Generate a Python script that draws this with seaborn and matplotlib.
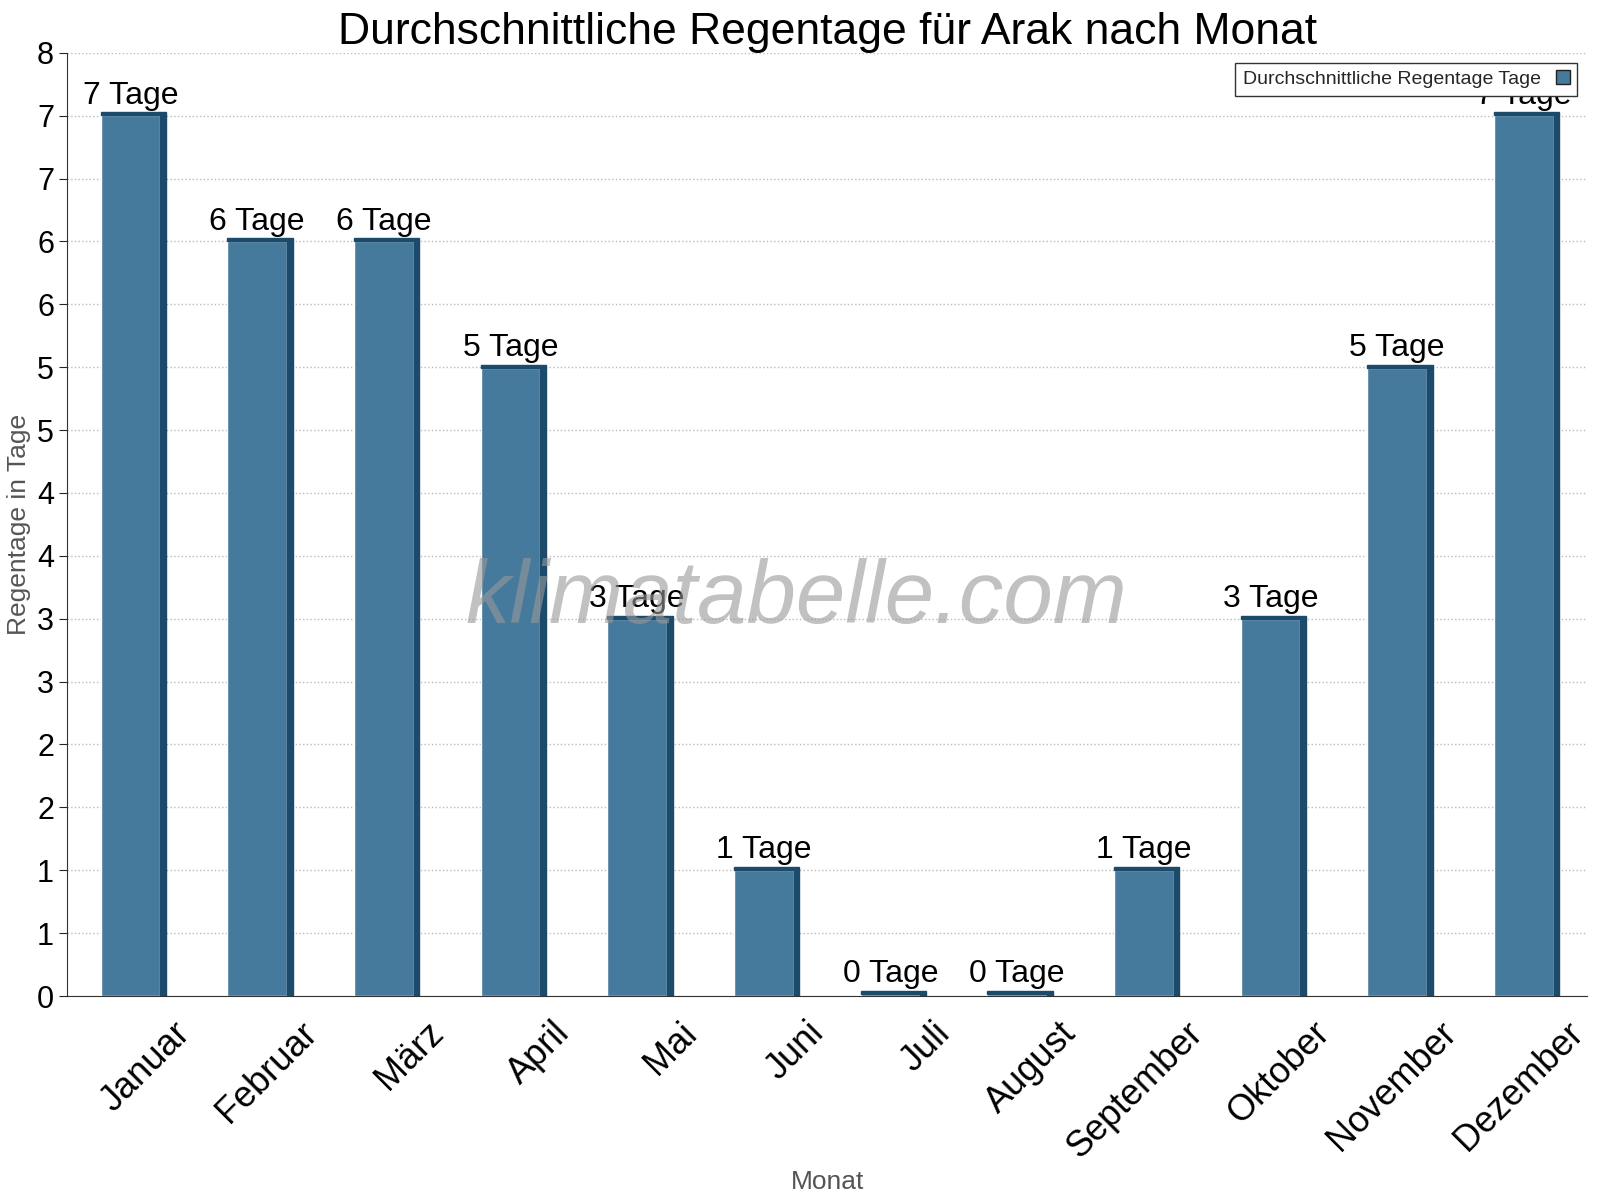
import numpy as np
import pandas as pd
import matplotlib
matplotlib.use("Agg")
import matplotlib.pyplot as plt
import seaborn as sns
from matplotlib.patches import Rectangle, Patch

months = ["Januar", "Februar", "März", "April", "Mai", "Juni", "Juli",
          "August", "September", "Oktober", "November", "Dezember"]
rain_days = [7.47, 6.4, 6.4, 5.33, 3.2, 1.07, 0.02, 0.02, 1.07, 3.2, 5.33, 7.47]
labels = ["7 Tage", "6 Tage", "6 Tage", "5 Tage", "3 Tage", "1 Tage", "0 Tage",
          "0 Tage", "1 Tage", "3 Tage", "5 Tage", "7 Tage"]

sns.set_style("white")
plt.rcParams['font.family'] = ['Liberation Sans', 'DejaVu Sans']

df = pd.DataFrame({"Monat": months, "Tage": rain_days})
fig = plt.figure(figsize=(16, 12), dpi=100)
ax = fig.add_axes([0.042, 0.17, 0.95, 0.786])

face = "#467a9c"
side = "#1c4a6b"
sns.barplot(data=df, x="Monat", y="Tage", color=face, width=0.47, ax=ax, saturation=1)

for p, lab in zip(ax.patches, labels):
    x, w, h = p.get_x(), p.get_width(), p.get_height()
    ax.add_patch(Rectangle((x + w, 0), 0.045, h, color=side, zorder=1))
    ax.add_patch(Rectangle((x, h), w + 0.045, 0.025, color=side, zorder=1))
    ax.text(x + w / 2, h + 0.04, lab, ha="center", va="bottom", fontsize=23, color="black")

ticks = np.arange(16) * 8 / 15
ax.set_yticks(ticks)
ax.set_yticklabels([str(int(round(t))) for t in ticks], fontsize=22, color="black")
ax.set_ylim(0, 8)
ax.set_xlim(-0.5, 11.5)
# labels sit a bit right of the bar centre, like the original
ax.set_xticks(np.arange(12) + 0.33)
ax.set_xticklabels(months, rotation=45, ha="right", rotation_mode="anchor",
                   fontsize=26, color="black")
ax.tick_params(axis="x", pad=14)
ax.set_xticks(np.arange(-0.5, 12, 1), minor=True)
ax.tick_params(axis="x", which="minor", length=6, color="#333333")
ax.tick_params(axis="x", which="major", length=0)
ax.tick_params(axis="y", length=6, left=True)
ax.yaxis.grid(True, linestyle=":", color="#bbbbbb", linewidth=1)
ax.set_axisbelow(True)
for s in ["top", "right"]:
    ax.spines[s].set_visible(False)
for s in ["left", "bottom"]:
    ax.spines[s].set_color("#333333")

ax.set_xlabel("Monat", fontsize=19, color="#555555", labelpad=4)
ax.set_ylabel("Regentage in Tage", fontsize=19, color="#555555")
ax.set_title("Durchschnittliche Regentage für Arak nach Monat", fontsize=32,
             pad=6, color="black")

ax.text(0.48, 0.42, "klimatabelle.com", transform=ax.transAxes, fontsize=64,
        color="#999999", alpha=0.6, style="italic", ha="center", va="center", zorder=5)

leg = ax.legend(handles=[Patch(facecolor=face, edgecolor="#222222")],
                labels=["Durchschnittliche Regentage Tage"], loc="upper right",
                fontsize=14, fancybox=False, edgecolor="#333333", framealpha=1,
                markerfirst=False, handlelength=0.7, bbox_to_anchor=(1.0, 1.0))

fig.savefig("out.png", dpi=100)
